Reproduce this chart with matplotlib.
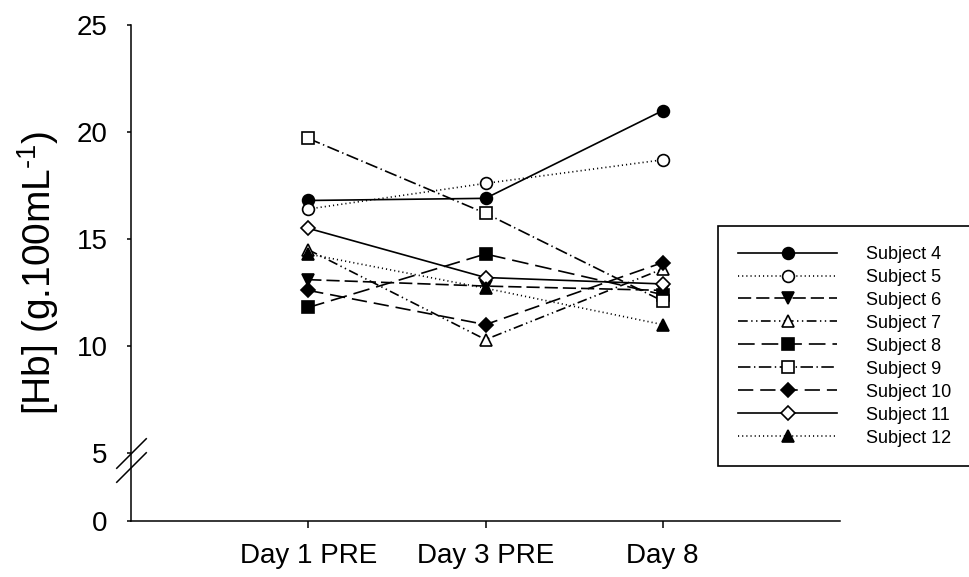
import numpy as np
import matplotlib
matplotlib.use('Agg')
import matplotlib.pyplot as plt
from matplotlib.path import Path
from matplotlib.transforms import ScaledTranslation, blended_transform_factory

plt.rcParams['font.family'] = ['Liberation Sans', 'DejaVu Sans']
plt.rcParams['mathtext.default'] = 'regular'
plt.rcParams['lines.scale_dashes'] = False

# values
days = ['Day 1 PRE', 'Day 3 PRE', 'Day 8']
day_pos = [1, 2, 3]
subjects = ['Subject 4', 'Subject 5', 'Subject 6', 'Subject 7', 'Subject 8',
            'Subject 9', 'Subject 10', 'Subject 11', 'Subject 12']
hb_s4 = [16.8, 16.9, 21.0]
hb_s5 = [16.4, 17.6, 18.7]
hb_s6 = [13.1, 12.8, 12.6]
hb_s7 = [14.5, 10.3, 13.6]
hb_s8 = [11.8, 14.3, 12.4]
hb_s9 = [19.7, 16.2, 12.1]
hb_s10 = [12.6, 11.0, 13.9]
hb_s11 = [15.5, 13.2, 12.9]
hb_s12 = [14.3, 12.7, 11.0]
yticks = [0, 5, 10, 15, 20, 25]

series = [hb_s4, hb_s5, hb_s6, hb_s7, hb_s8, hb_s9, hb_s10, hb_s11, hb_s12]

# marker, filled?, line style
dot = (0, (0.8, 2.2))
styles = [
    ('o', True, '-'),
    ('o', False, dot),
    ('v', True, (0, (9.5, 3.6))),
    ('^', False, (0, (7, 2.5, 1, 2.5, 1, 2.5))),
    ('s', True, (0, (12, 5))),
    ('s', False, (0, (9, 2.5, 1, 2.5))),
    ('D', True, (0, (11, 5))),
    ('D', False, '-'),
    ('^', True, dot),
]
msizes = {'o': 8.5, 'v': 8.5, '^': 8.5, 's': 8, 'D': 7.5}

# broken y axis: squash everything under 5
brk = 5.0
squash = 68 / 107

def fwd(y):
    y = np.asarray(y, float)
    return np.where(y >= brk, y, brk - (brk - y) * squash)

def inv(p):
    p = np.asarray(p, float)
    return np.where(p >= brk, p, brk - (brk - p) / squash)

fig = plt.figure(figsize=(9.69, 5.77), dpi=100)
ax = fig.add_axes([131/969, 1 - 521/577, 709/969, 496/577])

for vals, name, (mk, filled, ls) in zip(series, subjects, styles):
    ax.plot(day_pos, vals, linestyle=ls, color='black', linewidth=1.2,
            marker=mk, markersize=msizes[mk], markeredgecolor='black',
            markeredgewidth=1.2, markerfacecolor='black' if filled else 'white',
            label=name, clip_on=False)

ax.set_yscale('function', functions=(fwd, inv))
ax.set_ylim(0, 25)
ax.set_xlim(0, 4)
ax.set_yticks(yticks)
ax.set_yticklabels([str(t) for t in yticks])
ax.set_xticks(day_pos)
ax.set_xticklabels(days)
ax.minorticks_off()

for s in ['top', 'right']:
    ax.spines[s].set_visible(False)
for s in ['left', 'bottom']:
    ax.spines[s].set_linewidth(1.1)
ax.tick_params(axis='y', direction='out', length=3, width=1.1, pad=14, labelsize=20)
ax.tick_params(axis='x', direction='out', length=5, width=1.1, pad=11, labelsize=20)

# hyphen (not minus) in the exponent, like the original
ax.set_ylabel('[Hb] (g.100mL$^{\u20101}$)', fontsize=28, labelpad=11)

# axis break marks
slash = Path([(-1, -1), (1, 1)], [Path.MOVETO, Path.LINETO])
tr = blended_transform_factory(ax.transAxes, ax.transData)
tr2 = tr + ScaledTranslation(0, -10 / 72, fig.dpi_scale_trans)
for t in (tr, tr2):
    ax.plot([0], [brk], marker=slash, markersize=22, markeredgecolor='black',
            markeredgewidth=1.1, linestyle='none', transform=t, clip_on=False)

leg = ax.legend(loc='upper left', bbox_to_anchor=(718/969, 1 - 226/577 - 0.5, 0.3, 0.5),
                bbox_transform=fig.transFigure, mode='expand', borderaxespad=0,
                fontsize=13, handlelength=5.5, handletextpad=1.6, labelspacing=0.33,
                borderpad=1.1, fancybox=False, framealpha=1, numpoints=1)
leg.get_frame().set_edgecolor('black')
leg.get_frame().set_linewidth(1.2)

fig.savefig('out.png', dpi=100)
